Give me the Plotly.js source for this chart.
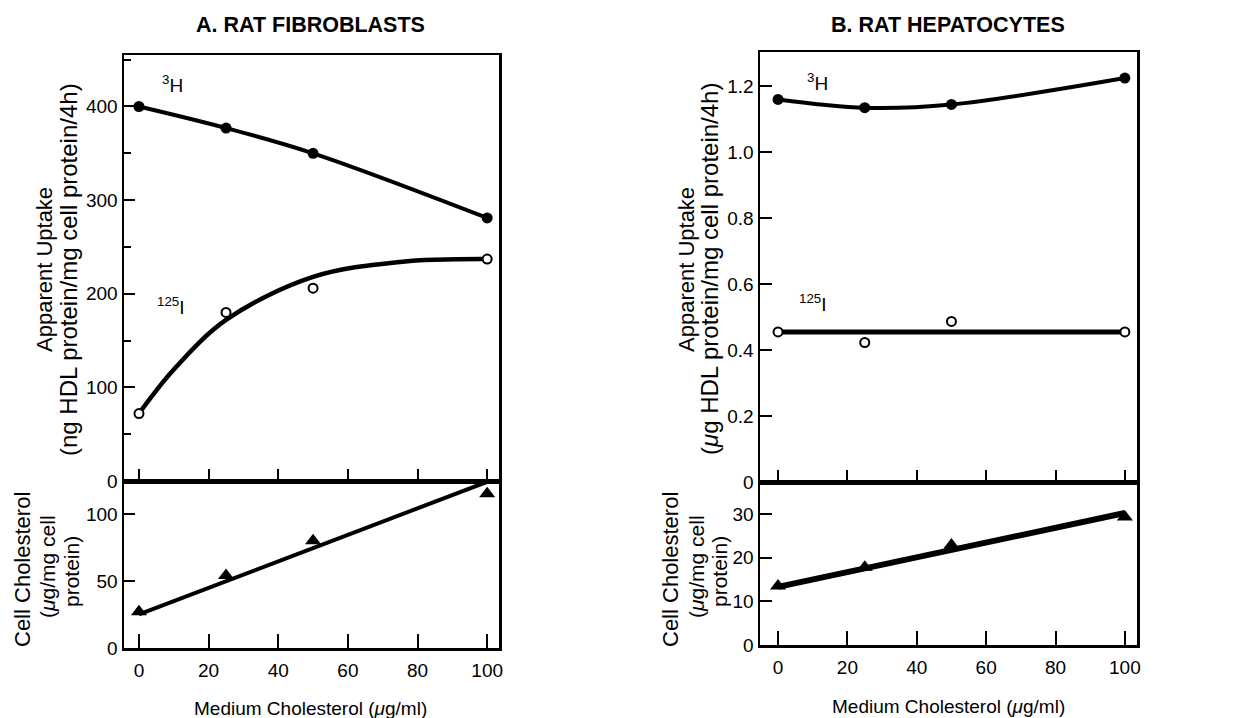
<!DOCTYPE html>
<html>
<head>
<meta charset="utf-8">
<script src="https://cdn.plot.ly/plotly-3.0.1.min.js"></script>
<style>html,body{margin:0;padding:0;background:#fff;}#chart{width:1240px;height:718px;}</style>
</head>
<body>
<div id="chart"></div>
<script>
// ---- data ----
const medium = [0, 25, 50, 100];
// A. Rat fibroblasts
const fibH3 = [400, 377, 350, 281];
const fibI125 = [72, 180, 206, 237];
const fibI125FitX = [0, 10, 25, 50, 75, 100];
const fibI125Fit = [72, 119, 172, 218, 234, 237];
const fibChol = [27, 54, 80, 115];
const fibCholFitX = [0, 100];
const fibCholFit = [25, 124];
// B. Rat hepatocytes
const hepH3 = [1.16, 1.135, 1.145, 1.225];
const hepI125 = [0.455, 0.423, 0.487, 0.455];
const hepI125FitX = [0, 100];
const hepI125Fit = [0.455, 0.455];
const hepChol = [13.5, 17.8, 22.9, 29.3];
const hepCholFitX = [0, 100];
const hepCholFit = [13.3, 30.2];
// tick labels
const xTicks = [0, 20, 40, 60, 80, 100];
const fibUpTicks = [0, 100, 200, 300, 400];
const fibUpMinor = [50, 150, 250, 350, 450];
const fibCholTicks = [0, 50, 100];
const hepUpTicks = [0, 0.2, 0.4, 0.6, 0.8, 1.0, 1.2];
const hepUpText = ['0', '0.2', '0.4', '0.6', '0.8', '1.0', '1.2'];
const hepCholTicks = [0, 10, 20, 30];

const FONT = 'Liberation Sans, Arial, Helvetica, sans-serif';
const W = 1240, H = 718;
const px = v => v / W;
const py = v => 1 - v / H;

const filled = {color: '#000', size: 11, symbol: 'circle'};
const open = {color: '#fff', size: 9, symbol: 'circle', line: {color: '#000', width: 2}};
const tri = {color: '#000', size: 14, symbol: 'triangle-up'};

const traces = [
  // A top
  {x: medium, y: fibH3, xaxis: 'x', yaxis: 'y', mode: 'lines+markers', line: {color: '#000', width: 4, shape: 'spline'}, marker: filled},
  {x: fibI125FitX, y: fibI125Fit, xaxis: 'x', yaxis: 'y', mode: 'lines', line: {color: '#000', width: 4.5, shape: 'spline'}},
  {x: medium, y: fibI125, xaxis: 'x', yaxis: 'y', mode: 'markers', marker: open},
  // A bottom
  {x: fibCholFitX, y: fibCholFit, xaxis: 'x2', yaxis: 'y2', mode: 'lines', line: {color: '#000', width: 4}},
  {x: medium, y: fibChol, xaxis: 'x2', yaxis: 'y2', mode: 'markers', marker: tri},
  // B top
  {x: medium, y: hepH3, xaxis: 'x3', yaxis: 'y3', mode: 'lines+markers', line: {color: '#000', width: 4, shape: 'spline'}, marker: filled},
  {x: hepI125FitX, y: hepI125Fit, xaxis: 'x3', yaxis: 'y3', mode: 'lines', line: {color: '#000', width: 5}},
  {x: medium, y: hepI125, xaxis: 'x3', yaxis: 'y3', mode: 'markers', marker: open},
  // B bottom
  {x: hepCholFitX, y: hepCholFit, xaxis: 'x4', yaxis: 'y4', mode: 'lines', line: {color: '#000', width: 6}},
  {x: medium, y: hepChol, xaxis: 'x4', yaxis: 'y4', mode: 'markers', marker: tri}
];

const base = {
  showline: true, linecolor: '#000', linewidth: 2.5, mirror: true,
  ticks: 'inside', tickcolor: '#000', tickwidth: 2,
  showgrid: false, zeroline: false, fixedrange: true,
  tickfont: {family: FONT, size: 19, color: '#000'}
};
const ax = o => Object.assign({}, base, o);

const layout = {
  width: W, height: H,
  margin: {l: 0, r: 0, t: 0, b: 0},
  paper_bgcolor: '#fff', plot_bgcolor: '#fff',
  showlegend: false,
  xaxis: ax({domain: [px(124), px(499)], anchor: 'y', range: [-4.3, 103.4], tickmode: 'array', tickvals: xTicks, ticklen: 12, showticklabels: false}),
  yaxis: ax({domain: [py(481), py(55)], anchor: 'x', range: [0, 455], tickmode: 'array', tickvals: fibUpTicks, ticklen: 11,
    minor: {tickmode: 'array', tickvals: fibUpMinor, ticks: 'inside', ticklen: 7, tickwidth: 2, tickcolor: '#000'}}),
  xaxis2: ax({domain: [px(124), px(499)], anchor: 'y2', range: [-4.3, 103.4], tickmode: 'array', tickvals: xTicks, ticklen: 14, ticklabelstandoff: 4}),
  yaxis2: ax({domain: [py(648), py(481)], anchor: 'x2', range: [0, 124.6], tickmode: 'array', tickvals: fibCholTicks, ticklen: 11}),
  xaxis3: ax({domain: [px(760), px(1137)], anchor: 'y3', range: [-5.2, 103.5], tickmode: 'array', tickvals: xTicks, ticklen: 12, showticklabels: false}),
  yaxis3: ax({domain: [py(482), py(52)], anchor: 'x3', range: [0, 1.304], tickmode: 'array', tickvals: hepUpTicks, ticktext: hepUpText, ticklen: 12}),
  xaxis4: ax({domain: [px(760), px(1137)], anchor: 'y4', range: [-5.2, 103.5], tickmode: 'array', tickvals: xTicks, ticklen: 14, ticklabelstandoff: 4}),
  yaxis4: ax({domain: [py(645), py(482)], anchor: 'x4', range: [0, 37.3], tickmode: 'array', tickvals: hepCholTicks, ticklen: 12}),
  annotations: []
};

function note(text, x, y, opts) {
  layout.annotations.push(Object.assign({
    text: text, xref: 'paper', yref: 'paper', x: px(x), y: py(y),
    xanchor: 'center', yanchor: 'middle', showarrow: false,
    font: {family: FONT, size: 19, color: '#000'}
  }, opts || {}));
}
const rot = (size) => ({textangle: -90, font: {family: FONT, size: size, color: '#000'}});

// panel titles
note('<b>A. RAT FIBROBLASTS</b>', 310, 25, {font: {family: FONT, size: 21.5, color: '#000'}});
note('<b>B. RAT HEPATOCYTES</b>', 948, 25, {font: {family: FONT, size: 21.5, color: '#000'}});
// x titles
note('Medium Cholesterol (<i>μ</i>g/ml)', 310, 708);
note('Medium Cholesterol (<i>μ</i>g/ml)', 948, 706);
// y titles, A
note('Apparent Uptake', 44, 270, rot(22));
note('(ng HDL protein/mg cell protein/4h)', 68, 270, rot(24));
note('Cell Cholesterol', 22, 570, rot(22));
note('(<i>μ</i>g/mg cell', 47, 567, rot(21));
note('protein)', 71, 572, rot(21));
// y titles, B
note('Apparent Uptake', 686, 270, rot(22));
note('(<i>μ</i>g HDL protein/mg cell protein/4h)', 709, 269, rot(24));
note('Cell Cholesterol', 670, 570, rot(22));
note('(<i>μ</i>g/mg cell', 696, 567, rot(21));
note('protein)', 719, 572, rot(21));
// series labels
note('<sup>3</sup>H', 160, 84, {xanchor: 'left'});
note('<sup>125</sup>I', 155, 306, {xanchor: 'left'});
note('<sup>3</sup>H', 805, 82, {xanchor: 'left'});
note('<sup>125</sup>I', 797, 303, {xanchor: 'left'});

Plotly.newPlot('chart', traces, layout, {displayModeBar: false, staticPlot: true});
</script>
</body>
</html>
